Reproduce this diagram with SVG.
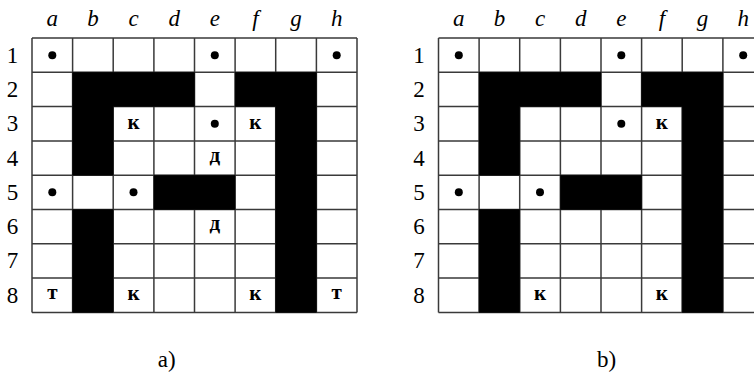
<svg xmlns="http://www.w3.org/2000/svg" xmlns:xlink="http://www.w3.org/1999/xlink" width="754" height="376" viewBox="0 0 754 376">
<style>
  .grid { fill: none; stroke: #3a3a3a; stroke-width: 1.5; }
  .blk { fill: #000; stroke: #000; stroke-width: 0.5; }
  .dot { fill: #000; }
</style>
<defs>
  <g id="board">
    <rect x="32" y="38" width="325" height="274.4" fill="#fff"/>
    <path class="grid" d="M32 38V312.4M72.6 38V312.4M113.2 38V312.4M153.9 38V312.4M194.5 38V312.4M235.1 38V312.4M275.7 38V312.4M316.4 38V312.4M357 38V312.4M32 38H357M32 72.3H357M32 106.6H357M32 140.9H357M32 175.2H357M32 209.5H357M32 243.8H357M32 278.1H357M32 312.4H357"/>
    <path class="blk" d="M72.6 72.3H194.5V106.6H113.2V175.2H72.6Z M235.1 72.3H316.4V312.4H275.7V106.6H235.1Z M153.9 175.2H235.1V209.5H153.9Z M72.6 209.5H113.2V312.4H72.6Z"/>
    <g font-family="'Liberation Serif', 'DejaVu Serif', serif" font-style="italic" font-size="23" fill="#000" text-anchor="middle">
      <text x="52.3" y="26">a</text>
      <text x="92.9" y="26">b</text>
      <text x="133.5" y="26">c</text>
      <text x="174.2" y="26">d</text>
      <text x="214.8" y="26">e</text>
      <text x="255.4" y="26">f</text>
      <text x="296" y="26">g</text>
      <text x="336.7" y="26">h</text>
    </g>
    <g font-family="'Liberation Serif', 'DejaVu Serif', serif" font-size="23" fill="#000" text-anchor="middle">
      <text x="12.5" y="62.6">1</text>
      <text x="12.5" y="96.9">2</text>
      <text x="12.5" y="131.2">3</text>
      <text x="12.5" y="165.5">4</text>
      <text x="12.5" y="199.8">5</text>
      <text x="12.5" y="234.1">6</text>
      <text x="12.5" y="268.4">7</text>
      <text x="12.5" y="302.7">8</text>
    </g>
  </g>
</defs>
<rect width="754" height="376" fill="#fff"/>
<g id="panel-a">
  <use xlink:href="#board" href="#board"/>
  <circle class="dot" cx="52.3" cy="55.15" r="4"/>
  <circle class="dot" cx="214.8" cy="55.15" r="4"/>
  <circle class="dot" cx="336.7" cy="55.15" r="4"/>
  <circle class="dot" cx="214.8" cy="123.75" r="4"/>
  <circle class="dot" cx="52.3" cy="192.35" r="4"/>
  <circle class="dot" cx="133.5" cy="192.35" r="4"/>
  <g font-family="'Liberation Serif', 'DejaVu Serif', serif" font-weight="bold" font-size="21" fill="#000" text-anchor="middle">
    <text x="133.5" y="128.6">к</text>
    <text x="255.4" y="128.6">к</text>
    <text x="214.8" y="161.6">д</text>
    <text x="214.8" y="230.2">д</text>
    <text x="52.3" y="299.4">т</text>
    <text x="133.5" y="299.8">к</text>
    <text x="255.4" y="299.8">к</text>
    <text x="336.7" y="299.4">т</text>
  </g>
  <text x="166.7" y="367" font-family="'Liberation Serif', 'DejaVu Serif', serif" font-size="23" fill="#000" text-anchor="middle">a)</text>
</g>
<g id="panel-b" transform="translate(406.5,0)">
  <use xlink:href="#board" href="#board"/>
  <circle class="dot" cx="52.3" cy="55.15" r="4"/>
  <circle class="dot" cx="214.8" cy="55.15" r="4"/>
  <circle class="dot" cx="336.7" cy="55.15" r="4"/>
  <circle class="dot" cx="214.8" cy="123.75" r="4"/>
  <circle class="dot" cx="52.3" cy="192.35" r="4"/>
  <circle class="dot" cx="133.5" cy="192.35" r="4"/>
  <g font-family="'Liberation Serif', 'DejaVu Serif', serif" font-weight="bold" font-size="21" fill="#000" text-anchor="middle">
    <text x="255.4" y="128.6">к</text>
    <text x="133.5" y="299.8">к</text>
    <text x="255.4" y="299.8">к</text>
  </g>
  <text x="200.2" y="367" font-family="'Liberation Serif', 'DejaVu Serif', serif" font-size="23" fill="#000" text-anchor="middle">b)</text>
</g>
</svg>
